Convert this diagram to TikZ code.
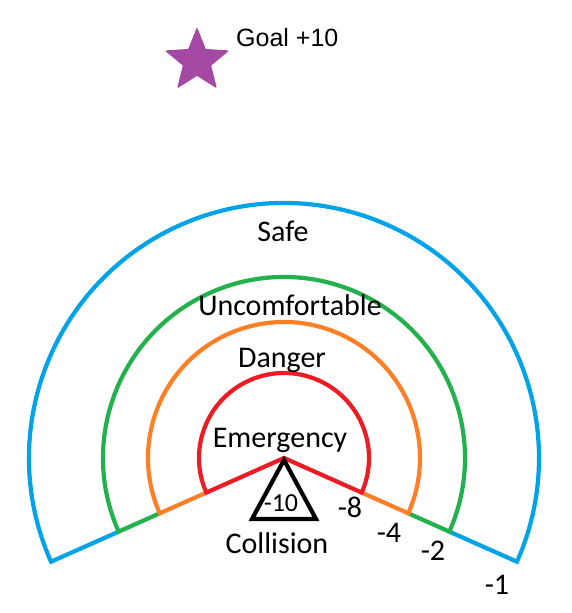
\documentclass[tikz,border=0pt]{standalone}
\usepackage{fontspec}
\setmainfont{Carlito}
\newfontfamily\goalfont{Liberation Sans}
\definecolor{cblue}{RGB}{0,162,232}
\definecolor{cgreen}{RGB}{34,177,76}
\definecolor{corange}{RGB}{255,127,39}
\definecolor{cred}{RGB}{237,28,36}
\definecolor{cpurple}{RGB}{163,73,164}
\begin{document}
\begin{tikzpicture}[x=1pt,y=1pt,
  band/.style={line width=4.2pt,line join=miter},
  lbl/.style={anchor=base,inner sep=0pt,font=\fontsize{30}{34}\selectfont}]
\useasboundingbox (0,0) rectangle (572,613);
\coordinate (c) at (284,155);
% bands
\draw[band,cblue] ([shift={(204:181)}]c) -- ([shift={(204:255)}]c)
  arc[start angle=204,end angle=-24,radius=255] -- ([shift={(-24:181)}]c);
\draw[band,cgreen] ([shift={(204:136)}]c) -- ([shift={(204:181)}]c)
  arc[start angle=204,end angle=-24,radius=181] -- ([shift={(-24:136)}]c);
\draw[band,corange] ([shift={(204:85)}]c) -- ([shift={(204:136)}]c)
  arc[start angle=204,end angle=-24,radius=136] -- ([shift={(-24:85)}]c);
\draw[band,cred] (c) -- ([shift={(204:85)}]c)
  arc[start angle=204,end angle=-24,radius=85] -- cycle;
% robot triangle
\coordinate (t1) at (284,153);
\coordinate (t2) at (252,94);
\coordinate (t3) at (316,94);
\draw[line width=4.2pt,black,line join=miter] (t1) -- (t2) -- (t3) -- cycle;
% star
\coordinate (starc) at (197,552);
\fill[cpurple,draw=cpurple,line width=1.5pt,line join=round]
  ([shift={(90:32)}]starc) -- ([shift={(126:14)}]starc)
  -- ([shift={(162:32)}]starc) -- ([shift={(198:14)}]starc)
  -- ([shift={(234:32)}]starc) -- ([shift={(270:14)}]starc)
  -- ([shift={(306:32)}]starc) -- ([shift={(342:14)}]starc)
  -- ([shift={(18:32)}]starc) -- ([shift={(54:14)}]starc) -- cycle;
\node[anchor=west,inner sep=0pt,font=\goalfont\fontsize{25}{30}\selectfont] (goal) at (236,575) {Goal +10};
% labels
\node[lbl] (safe) at (283,371) {Safe};
\node[lbl] (unc) at (290,297) {Uncomfortable};
\node[lbl] (dan) at (282,245) {Danger};
\node[lbl] (em) at (280,165) {Emergency};
\node[anchor=base,inner sep=0pt,font=\fontsize{26}{30}\selectfont] (m10) at (281,101) {-10};
\node[lbl] (col) at (277,59) {Collision};
\node[lbl] (m8) at (350,95) {-8};
\node[lbl] (m4) at (389,70) {-4};
\node[lbl] (m2) at (433,52) {-2};
\node[lbl] (m1) at (497,18) {-1};
\end{tikzpicture}
\end{document}
